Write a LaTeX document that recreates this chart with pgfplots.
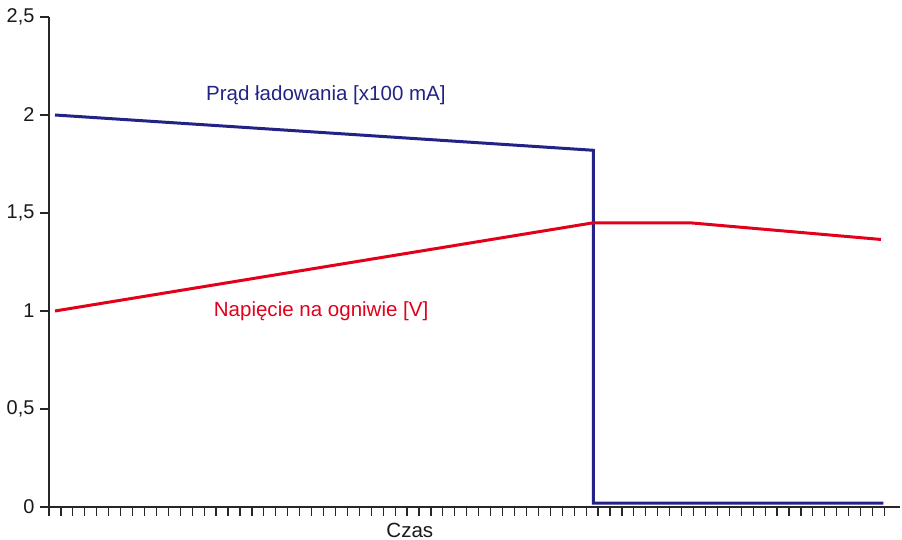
\documentclass[border=0pt]{standalone}
\usepackage{fontspec}
\setmainfont{Liberation Sans}
\usepackage{pgfplots}
\pgfplotsset{compat=1.18}
\definecolor{granat}{RGB}{35,35,135}
\definecolor{czerwony}{RGB}{226,0,26}
\begin{document}
\fontsize{10.3}{12}\selectfont
\begin{tikzpicture}
\begin{axis}[
    name=ax,
    scale only axis,
    width=425.5bp, height=245bp,
    xmin=0, xmax=71.3,
    ymin=0, ymax=2.5,
    axis lines=left,
    axis line style={-, line width=0.6bp, black!85},
    xtick={0,1,...,70},
    xticklabels={},
    xtick align=outside,
    ytick={0,0.5,1,1.5,2,2.5},
    ytick align=outside,
    major tick length=4.5bp,
    tick style={line width=0.6bp, black!85},
    /pgf/number format/use comma,
    /pgf/number format/assume math mode=true,
    yticklabel style={font=\fontsize{10}{12}\selectfont, text=black!90, inner xsep=2.6bp},
    xlabel={Czas},
    xlabel style={at={(rel axis cs:0.424,0)}, anchor=center, yshift=-11.5bp, text=black!90},
    clip=false,
]
\addplot[granat, line width=1.5bp] coordinates {
    (0.5,2.0) (45.6,1.82) (45.6,0.02) (69.9,0.02)
};
\addplot[czerwony, line width=1.5bp] coordinates {
    (0.5,1.0) (45.6,1.45) (53.7,1.45) (69.7,1.365)
};
\node[text=granat] at (axis cs:23.2,2.10) {Prąd ładowania [x100 mA]};
\node[text=czerwony] at (axis cs:22.8,1.0) {Napięcie na ogniwie [V]};
\end{axis}
\pgfresetboundingbox
\path ([xshift=-24.5bp,yshift=-16.5bp]ax.south west)
      rectangle ([xshift=1bp,yshift=8.5bp]ax.north east);
\end{tikzpicture}
\end{document}
